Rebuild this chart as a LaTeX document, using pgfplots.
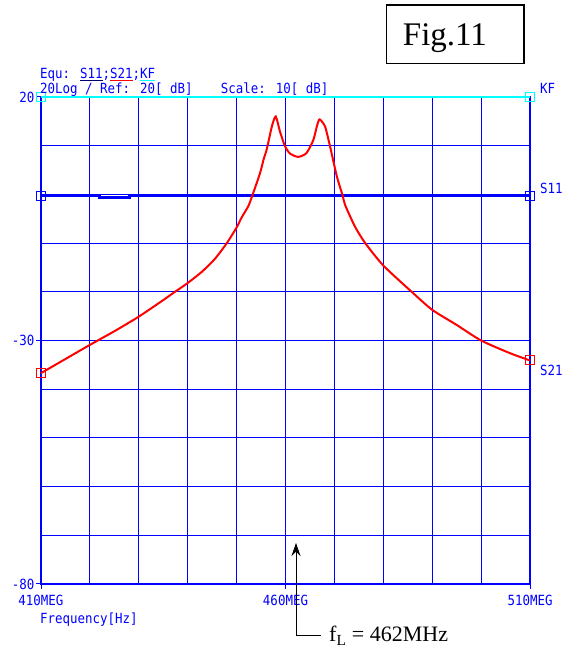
\documentclass[border=0pt]{standalone}
\usepackage{pgfplots}
\pgfplotsset{compat=1.18}
\usetikzlibrary{arrows.meta}
\usepackage{fontspec}
\setmainfont{Liberation Serif}
\newfontfamily\gfont[FakeStretch=0.89]{DejaVu Sans Mono}
\definecolor{gblue}{RGB}{0,0,255}
\definecolor{gcyan}{RGB}{0,255,255}
\definecolor{gred}{RGB}{255,0,0}
\definecolor{gnavy}{RGB}{0,0,110}
\newcommand\cul[2]{\setbox0\hbox{#2}\rlap{\color{#1}\rule[-2.2pt]{\wd0}{1pt}}\box0}
\newcommand\gf{\gfont\fontsize{14}{14}\selectfont}

\pgfplotstableread{
f dB
410 -36.7
415 -33.8
420 -30.9
425 -28.1
430 -25.1
435 -21.7
437.4 -20.0
440 -18.2
443 -15.8
445.6 -13.2
448 -10.0
450 -6.8
451 -4.8
452.4 -2.4
453.2 -0.3
454.8 4.4
455.5 7.1
456.2 9.4
457.2 13.9
458.0 16.0
458.9 12.8
459.9 9.9
460.9 8.4
462.6 7.7
464.3 8.5
465.7 11.2
466.5 14.3
467.0 15.4
468.1 13.9
469.1 9.9
470.5 3.7
471.7 -0.3
472.2 -2.2
474.2 -6.6
476.3 -10.0
480 -14.6
485.8 -20.0
490 -23.7
495 -26.8
500 -30.0
505.9 -32.6
510 -34.1
}\stwoone

\begin{document}
\begin{tikzpicture}[x=1pt,y=1pt]
\useasboundingbox (0,0) rectangle (569,648);
\begin{axis}[
  at={(41pt,64pt)}, anchor=south west,
  width=489pt, height=487pt, scale only axis,
  xmin=410, xmax=510, ymin=-80, ymax=20,
  xtick={410,460,510}, xticklabels={410MEG,460MEG,510MEG},
  ytick={-80,-30,20}, yticklabels={-80,-30,20},
  major tick length=5pt, tick align=outside,
  axis line style={gblue, line width=1.1pt},
  tick style={gblue, line width=1pt},
  tick pos=left,
  ticklabel style={font=\gf, text=gblue},
  xticklabel style={inner sep=2pt, yshift=-4pt},
  yticklabel style={inner sep=1.5pt},
  clip=false,
]
\pgfplotsinvokeforeach{420,430,440,450,460,470,480,490,500}{
  \draw[draw=gblue, line width=1.1pt] (axis cs:#1,-80) -- (axis cs:#1,20);
}
\pgfplotsinvokeforeach{-70,-60,-50,-40,-30,-20,-10,0,10}{
  \draw[draw=gblue, line width=1.1pt] (axis cs:410,#1) -- (axis cs:510,#1);
}
\addplot[gcyan, line width=2pt] coordinates {(410,20) (510,20)};
\addplot[gcyan, only marks, mark=square, mark size=4.5pt, mark options={line width=1pt}] coordinates {(410,20) (510,20)};
\addplot[gblue, line width=3pt] coordinates {(410,-0.3) (422,-0.3) (422,-0.6) (428,-0.6) (428,-0.3) (510,-0.3)};
\addplot[gblue, only marks, mark=square, mark size=4.5pt, mark options={line width=1pt}] coordinates {(410,-0.3) (510,-0.3)};
\addplot[gred, line width=2pt, smooth, tension=0.4] table[x=f, y=dB] {\stwoone};
\addplot[gred, only marks, mark=square, mark size=4.5pt, mark options={line width=1pt}] coordinates {(410,-36.7) (510,-34.1)};
\end{axis}
% header
\node[anchor=base west, inner sep=0, font=\gf, text=gblue] at (40,569) {Equ: \cul{gnavy}{S11};\cul{gred}{S21};\cul{gcyan}{KF}};
\node[anchor=base west, inner sep=0, font=\gf, text=gblue] at (40,554) {20Log / Ref: 20[ dB]};
\node[anchor=base west, inner sep=0, font=\gf, text=gblue] at (220.7,554) {Scale: 10[ dB]};
% right labels
\node[anchor=west, inner sep=0, font=\gf, text=gblue] at (540,560) {KF};
\node[anchor=west, inner sep=0, font=\gf, text=gblue] at (540,460) {S11};
\node[anchor=west, inner sep=0, font=\gf, text=gblue] at (540,278) {S21};
% x label
\node[anchor=west, inner sep=0, font=\gf, text=gblue] at (40,28) {Frequency[Hz]};
% fig box
\draw[line width=1.5pt] (386.7,643) rectangle (524,584.7);
\node[anchor=base west, inner sep=0, font=\fontsize{33}{33}\selectfont] at (402.7,602.3) {Fig.11};
% annotation
\draw[line width=0.8pt, -{Stealth[length=13pt,width=9pt]}] (296,12.4) -- (296,105);
\draw[line width=0.8pt] (296,12.4) -- (321,12.4);
\node[anchor=base west, inner sep=0, font=\fontsize{22}{22}\selectfont] at (329,6) {f\textsubscript{L} = 462MHz};
\end{tikzpicture}
\end{document}
